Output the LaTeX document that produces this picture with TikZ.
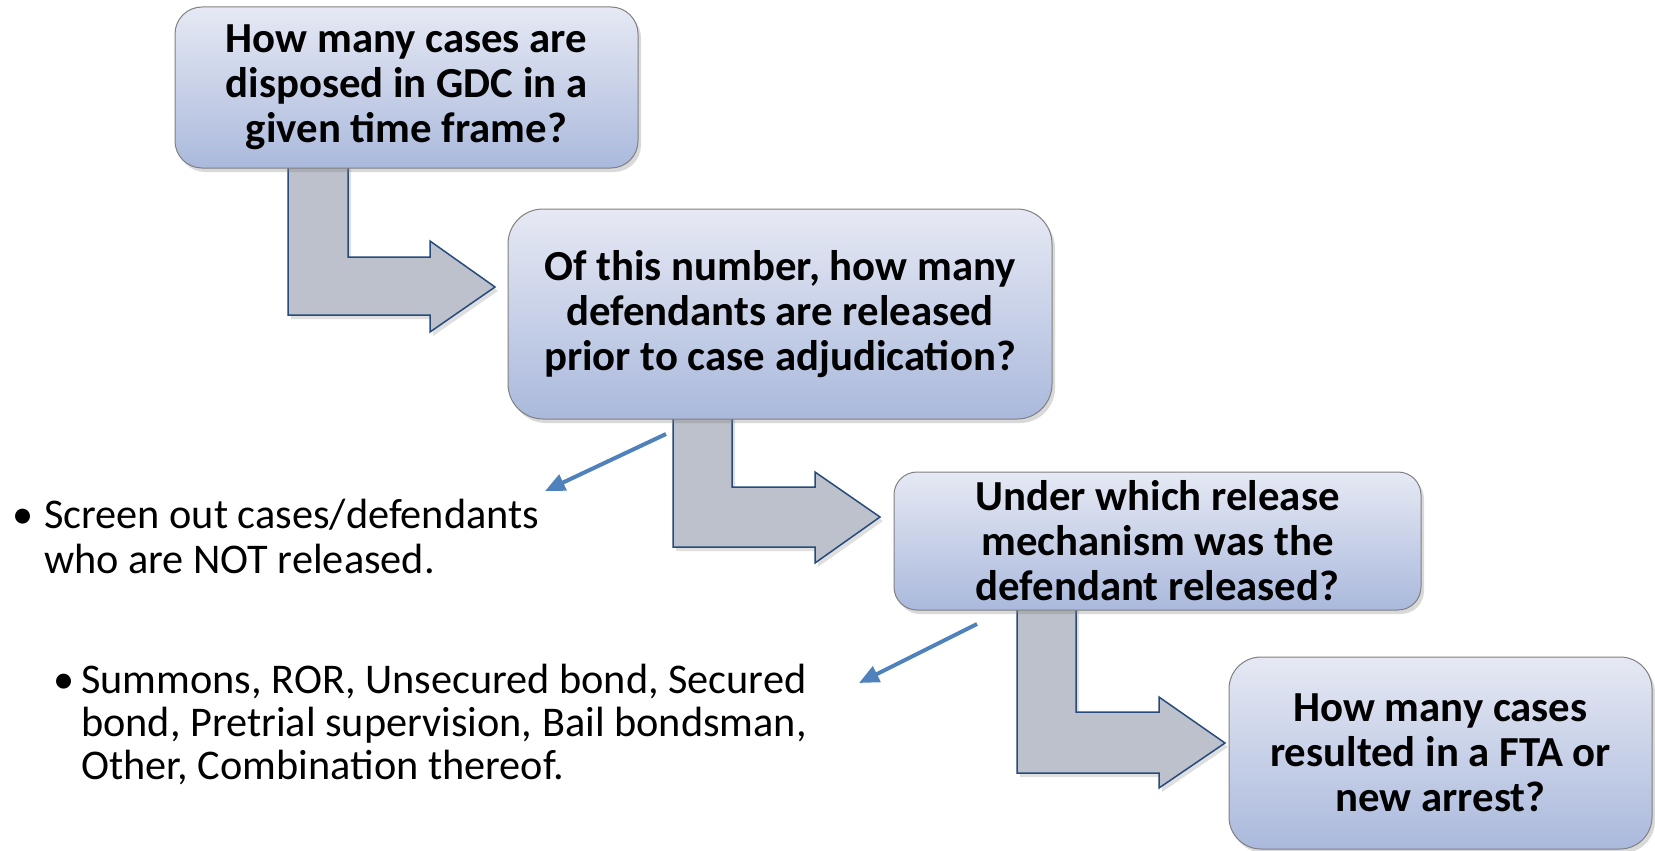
\documentclass[tikz,border=0pt]{standalone}
\usepackage{fontspec}
\setmainfont{Carlito}
\usetikzlibrary{shadows,arrows.meta}
\definecolor{boxtop}{HTML}{E6E9F4}
\definecolor{boxbot}{HTML}{AAB9DC}
\definecolor{boxline}{HTML}{808080}
\definecolor{arrfill}{HTML}{BDC1CB}
\definecolor{arrline}{HTML}{264B7C}
\definecolor{pointcol}{HTML}{4F81BD}
\tikzset{
  qbox/.style={draw=boxline, line width=1pt, top color=boxtop, bottom color=boxbot,
    align=center, inner sep=0pt, font=\fontsize{42.8}{45}\selectfont\bfseries,
    drop shadow={shadow xshift=3pt, shadow yshift=-4pt, opacity=0.3}},
  bentarrow/.style={fill=arrfill, draw=arrline, line width=1.5pt, line join=miter,
    drop shadow={shadow xshift=3pt, shadow yshift=-4pt, opacity=0.25}},
  pointer/.style={draw=pointcol, line width=4pt, -{Triangle[length=20pt,width=17pt]}},
  bullettext/.style={anchor=base west, inner sep=0pt, font=\fontsize{42.3}{45}\selectfont}
}
\begin{document}
\begin{tikzpicture}[x=1pt, y=-1pt]
\useasboundingbox (0,0) rectangle (1655,851);
% bent arrows (drawn first, under the boxes)
\draw[bentarrow] (288,160) -- (288,315) -- (430,315) -- (430,332) -- (495,287) -- (430,241) -- (430,257) -- (348,257) -- (348,160) -- cycle;
\draw[bentarrow] (673,410) -- (673,547) -- (815,547) -- (815,563) -- (880,517) -- (815,472) -- (815,487) -- (732,487) -- (732,410) -- cycle;
\draw[bentarrow] (1017,600) -- (1017,773) -- (1159,773) -- (1159,788) -- (1225,743) -- (1159,697) -- (1159,712) -- (1076,712) -- (1076,600) -- cycle;
% question boxes
\node[qbox, minimum width=463pt, minimum height=161pt, rounded corners=27pt] (q1) at (406.5,87.5)
  {How many cases are\\disposed in GDC in a\\given time frame?};
\node[qbox, minimum width=544pt, minimum height=210pt, rounded corners=35pt] (q2) at (780,314)
  {Of this number, how many\\defendants are released\\prior to case adjudication?};
\node[qbox, minimum width=527pt, minimum height=138pt, rounded corners=23pt] (q3) at (1157.5,541)
  {Under which release\\mechanism was the\\defendant released?};
\node[qbox, minimum width=423pt, minimum height=192pt, rounded corners=32pt] (q4) at (1440.5,753)
  {How many cases\\resulted in a FTA or\\new arrest?};
% bullet texts
\node[bullettext] (n1) at (12,528)
  {\parbox[t]{700pt}{\hangindent=32pt\hangafter=1\noindent\makebox[32pt][l]{•}Screen out cases/defendants\\who are NOT released.}};
\node[bullettext] (n2) at (53,693)
  {\parbox[t]{800pt}{\baselineskip=43pt\hangindent=28pt\hangafter=1\noindent\makebox[28pt][l]{•}Summons, ROR, Unsecured bond, Secured\\bond, Pretrial supervision, Bail bondsman,\\Other, Combination thereof.}};
% pointer arrows
\coordinate (p1s) at (666,434);
\coordinate (p1e) at (545,491);
\coordinate (p2s) at (977,624);
\coordinate (p2e) at (859,683);
\draw[pointer] (p1s) -- (p1e);
\draw[pointer] (p2s) -- (p2e);
\end{tikzpicture}
\end{document}
